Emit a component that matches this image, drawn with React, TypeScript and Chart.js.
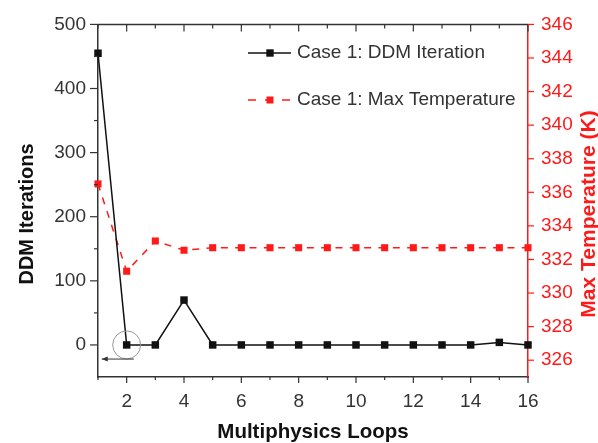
import React, { useEffect, useRef } from "react";
import { Chart, registerables } from "chart.js";

Chart.register(...registerables);

// ---- data ----
const loops = [1, 2, 3, 4, 5, 6, 7, 8, 9, 10, 11, 12, 13, 14, 15, 16];
const ddmIterations = [455, 0, 0, 70, 0, 0, 0, 0, 0, 0, 0, 0, 0, 0, 4, 0];
const maxTemperature = [
  336.5, 331.3, 333.1, 332.55, 332.7, 332.7, 332.7, 332.7, 332.7, 332.7, 332.7,
  332.7, 332.7, 332.7, 332.7, 332.7,
];
const xLabelValues = [2, 4, 6, 8, 10, 12, 14, 16];
const leftLabelValues = [0, 100, 200, 300, 400, 500];
const leftTickValues = [0, 50, 100, 150, 200, 250, 300, 350, 400, 450, 500];
const rightTickValues = [326, 328, 330, 332, 334, 336, 338, 340, 342, 344, 346];
const seriesLabels = ["Case 1: DDM Iteration", "Case 1: Max Temperature"];
const axisTitles = { x: "Multiphysics Loops", y: "DDM Iterations", y1: "Max Temperature (K)" };
// annotation (data coords): circle around loop 2, arrow pointing to left axis
const circleAt = { x: 2, y: 0 };
const arrowFrom = { x: 2.25, y: -22 };
const arrowTo = { x: 1.13, y: -22 };

const RED = "#ff1a1a";
const DARK = "#333333";
const FONT = "'Liberation Sans', Arial, sans-serif";

const decorPlugin = {
  id: "decor",
  afterDraw(chart: any) {
    const { ctx, chartArea } = chart;
    const xs = chart.scales.x;
    const ys = chart.scales.y;
    const y1 = chart.scales.y1;
    const { left, right, top, bottom } = chartArea;
    ctx.save();
    // top border
    ctx.strokeStyle = DARK;
    ctx.lineWidth = 1.5;
    ctx.beginPath();
    ctx.moveTo(left, top);
    ctx.lineTo(right, top);
    ctx.stroke();
    // left ticks (outward)
    ctx.lineWidth = 1.2;
    leftTickValues.forEach((v) => {
      const py = ys.getPixelForValue(v);
      const len = v % 100 === 0 ? 8 : 4;
      ctx.beginPath();
      ctx.moveTo(left - len, py);
      ctx.lineTo(left, py);
      ctx.stroke();
    });
    // bottom (outward) and top (inward) ticks
    loops.forEach((v) => {
      const px = xs.getPixelForValue(v);
      const major = v % 2 === 0;
      ctx.beginPath();
      ctx.moveTo(px, bottom);
      ctx.lineTo(px, bottom + (major ? 6 : 3));
      ctx.moveTo(px, top);
      ctx.lineTo(px, top + (major ? 7 : 4));
      ctx.stroke();
    });
    // right ticks (outward, red)
    ctx.strokeStyle = RED;
    rightTickValues.forEach((v) => {
      const py = y1.getPixelForValue(v);
      ctx.beginPath();
      ctx.moveTo(right, py);
      ctx.lineTo(right + 6, py);
      ctx.stroke();
    });

    // axis titles
    ctx.textAlign = "center";
    ctx.textBaseline = "middle";
    ctx.fillStyle = "#111";
    ctx.font = `bold 20px ${FONT}`;
    ctx.save();
    ctx.translate(27, 214);
    ctx.rotate(-Math.PI / 2);
    ctx.fillText(axisTitles.y, 0, 0);
    ctx.restore();
    ctx.save();
    ctx.font = `bold 21px ${FONT}`;
    ctx.translate(589, 214);
    ctx.rotate(-Math.PI / 2);
    ctx.fillStyle = RED;
    ctx.fillText(axisTitles.y1, 0, 0);
    ctx.restore();
    ctx.font = `bold 20.5px ${FONT}`;
    ctx.fillText(axisTitles.x, (left + right) / 2, 432);

    // legend
    const lx0 = 248, lx1 = 291, mx = 270, tx = 297;
    const ly = [53, 100];
    ctx.lineWidth = 1.5;
    ctx.strokeStyle = "#111";
    ctx.setLineDash([]);
    ctx.beginPath();
    ctx.moveTo(lx0, ly[0]);
    ctx.lineTo(lx1, ly[0]);
    ctx.stroke();
    ctx.fillStyle = "#111";
    ctx.fillRect(mx - 3.7, ly[0] - 3.7, 7.4, 7.4);
    ctx.strokeStyle = RED;
    ctx.setLineDash([8, 9]);
    ctx.beginPath();
    ctx.moveTo(lx0, ly[1]);
    ctx.lineTo(lx1, ly[1]);
    ctx.stroke();
    ctx.setLineDash([]);
    ctx.fillStyle = RED;
    ctx.fillRect(mx - 3.5, ly[1] - 3.5, 7, 7);
    ctx.font = `19px ${FONT}`;
    ctx.textAlign = "left";
    ctx.fillStyle = DARK;
    ctx.fillText(seriesLabels[0], tx, ly[0]);
    ctx.fillText(seriesLabels[1], tx, ly[1]);

    // annotation circle and arrow
    const cx = xs.getPixelForValue(circleAt.x);
    const cy = ys.getPixelForValue(circleAt.y);
    ctx.strokeStyle = "#999";
    ctx.lineWidth = 1;
    ctx.beginPath();
    ctx.arc(cx, cy, 14, 0, Math.PI * 2);
    ctx.stroke();
    const ax0 = xs.getPixelForValue(arrowFrom.x);
    const ay = ys.getPixelForValue(arrowFrom.y);
    const ax1 = xs.getPixelForValue(arrowTo.x);
    ctx.strokeStyle = DARK;
    ctx.beginPath();
    ctx.moveTo(ax0, ay);
    ctx.lineTo(ax1, ay);
    ctx.stroke();
    ctx.fillStyle = DARK;
    ctx.beginPath();
    ctx.moveTo(ax1, ay);
    ctx.lineTo(ax1 + 6, ay - 2.5);
    ctx.lineTo(ax1 + 6, ay + 2.5);
    ctx.closePath();
    ctx.fill();
    ctx.restore();
  },
};

export default function App() {
  const canvasRef = useRef<HTMLCanvasElement | null>(null);

  useEffect(() => {
    if (!canvasRef.current) return;
    Chart.defaults.font.family = FONT;
    const chart = new Chart(canvasRef.current, {
      type: "line",
      data: {
        datasets: [
          {
            label: seriesLabels[0],
            data: loops.map((x, i) => ({ x, y: ddmIterations[i] })),
            yAxisID: "y",
            borderColor: "#111",
            backgroundColor: "#111",
            borderWidth: 1.5,
            pointStyle: "rect",
            pointRadius: 5.3,
            pointBorderWidth: 0,
            tension: 0,
            clip: false as any,
          },
          {
            label: seriesLabels[1],
            data: loops.map((x, i) => ({ x, y: maxTemperature[i] })),
            yAxisID: "y1",
            borderColor: RED,
            backgroundColor: RED,
            borderWidth: 1.5,
            borderDash: [7, 7.33],
            pointStyle: "rect",
            pointRadius: 5,
            pointBorderWidth: 0,
            tension: 0,
            clip: false as any,
          },
        ],
      },
      options: {
        animation: false,
        responsive: true,
        maintainAspectRatio: false,
        layout: { padding: { top: 24, left: 0, right: 0, bottom: 0 } },
        plugins: { legend: { display: false }, tooltip: { enabled: false } },
        scales: {
          x: {
            type: "linear",
            position: "bottom",
            min: 1,
            max: 16,
            grid: { display: false, drawTicks: false },
            border: { display: true, color: DARK, width: 1.5 },
            ticks: {
              autoSkip: false,
              maxRotation: 0,
              padding: 13,
              color: DARK,
              font: { size: 19 },
            },
            afterBuildTicks: (s: any) => {
              s.ticks = xLabelValues.map((value) => ({ value }));
            },
            afterFit: (s: any) => {
              s.height = 66;
            },
          },
          y: {
            type: "linear",
            position: "left",
            min: -50,
            max: 500,
            grid: { display: false, drawTicks: false },
            border: { display: true, color: DARK, width: 1.5 },
            ticks: {
              autoSkip: false,
              padding: 12,
              color: DARK,
              font: { size: 19 },
            },
            afterBuildTicks: (s: any) => {
              s.ticks = leftLabelValues.map((value) => ({ value }));
            },
            afterFit: (s: any) => {
              s.width = 98;
            },
          },
          y1: {
            type: "linear",
            position: "right",
            min: 325,
            max: 346,
            grid: { display: false, drawTicks: false },
            border: { display: true, color: RED, width: 1.5 },
            ticks: {
              autoSkip: false,
              padding: 13,
              color: RED,
              font: { size: 19 },
            },
            afterBuildTicks: (s: any) => {
              s.ticks = rightTickValues.map((value) => ({ value }));
            },
            afterFit: (s: any) => {
              s.width = 70;
            },
          },
        },
      },
      plugins: [decorPlugin],
    });
    return () => chart.destroy();
  }, []);

  return (
    <div style={{ position: "absolute", left: 0, top: 0, width: 598, height: 443, background: "#fff" }}>
      <canvas ref={canvasRef} />
    </div>
  );
}
